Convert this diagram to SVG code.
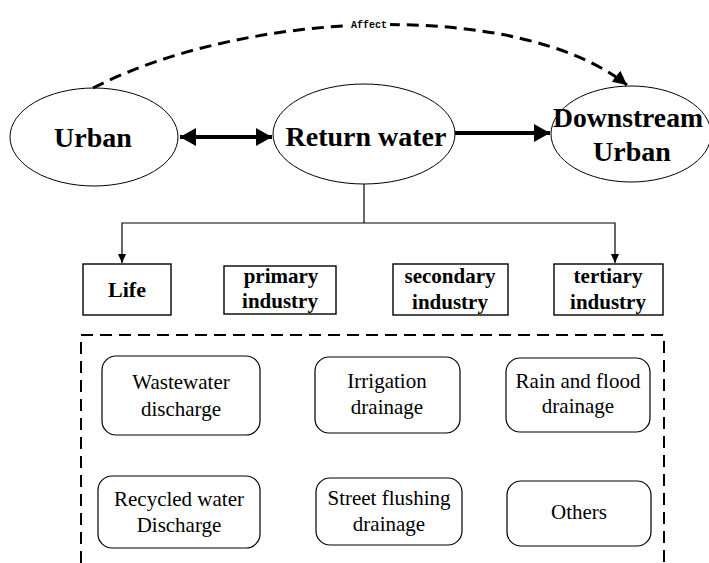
<svg xmlns="http://www.w3.org/2000/svg" width="709" height="563" viewBox="0 0 709 563">
<defs>
<style>
.ell{fill:#fff;stroke:#000;stroke-width:1}
.big{font-family:"Liberation Serif","Times New Roman",serif;font-weight:bold;font-size:28px;text-anchor:middle;fill:#000}
.sq{fill:#fff;stroke:#000;stroke-width:1.4}
.mid{font-family:"Liberation Serif","Times New Roman",serif;font-weight:bold;font-size:21px;text-anchor:middle;fill:#000}
.rb{fill:#fff;stroke:#000;stroke-width:1.2}
.reg{font-family:"Liberation Serif","Times New Roman",serif;font-size:21px;text-anchor:middle;fill:#000}
.thin{fill:none;stroke:#000;stroke-width:1.2}
</style>
<marker id="bigHead" markerUnits="userSpaceOnUse" markerWidth="18" markerHeight="20" viewBox="0 0 18 20" refX="16" refY="10" orient="auto-start-reverse">
<path d="M0,1 L16,10 L0,19 Z" fill="#000"/>
</marker>
<marker id="dashHead" markerUnits="userSpaceOnUse" markerWidth="16" markerHeight="16" viewBox="0 0 16 16" refX="14" refY="8" orient="auto">
<path d="M0,1 L14,8 L0,15 Z" fill="#000"/>
</marker>
<marker id="smallHead" markerUnits="userSpaceOnUse" markerWidth="10" markerHeight="10" viewBox="0 0 10 10" refX="9" refY="5" orient="auto">
<path d="M0,1 L9,5 L0,9 Z" fill="#000"/>
</marker>
</defs>
<rect width="709" height="563" fill="#fff"/>

<g id="urban">
<ellipse class="ell" cx="94" cy="137" rx="84" ry="49"/>
<text class="big" x="93" y="147">Urban</text>
</g>
<g id="return-water">
<ellipse class="ell" cx="364" cy="134" rx="91" ry="50"/>
<text class="big" x="366" y="146">Return water</text>
</g>
<g id="downstream">
<ellipse class="ell" cx="631" cy="134" rx="80" ry="48"/>
<text class="big" x="628" y="127" textLength="150" lengthAdjust="spacingAndGlyphs">Downstream</text>
<text class="big" x="632" y="161">Urban</text>
</g>

<g id="life">
<rect class="sq" x="83" y="264" width="88" height="51"/>
<text class="mid" x="127" y="297" style="font-size:22px">Life</text>
</g>
<g id="primary">
<rect class="sq" x="224" y="266" width="112" height="48"/>
<text class="mid" x="281" y="283">primary</text>
<text class="mid" x="280" y="308">industry</text>
</g>
<g id="secondary">
<rect class="sq" x="393" y="264" width="115" height="51"/>
<text class="mid" x="450" y="283">secondary</text>
<text class="mid" x="450" y="309">industry</text>
</g>
<g id="tertiary">
<rect class="sq" x="554" y="264" width="109" height="51"/>
<text class="mid" x="608" y="283">tertiary</text>
<text class="mid" x="608" y="309">industry</text>
</g>

<g id="group-frame">
<path d="M81,563 V335 H664 V563" fill="none" stroke="#000" stroke-width="2" stroke-dasharray="12,7"/>
</g>

<g id="wastewater">
<rect class="rb" x="102" y="356" width="158" height="79" rx="14"/>
<text class="reg" x="181" y="389">Wastewater</text>
<text class="reg" x="181" y="416">discharge</text>
</g>
<g id="irrigation">
<rect class="rb" x="315" y="357" width="145" height="76" rx="14"/>
<text class="reg" x="387" y="388">Irrigation</text>
<text class="reg" x="387" y="414">drainage</text>
</g>
<g id="rain">
<rect class="rb" x="506" y="358" width="144" height="74" rx="14"/>
<text class="reg" x="578" y="388">Rain and flood</text>
<text class="reg" x="578" y="413">drainage</text>
</g>
<g id="recycled">
<rect class="rb" x="98" y="476" width="162" height="72" rx="14"/>
<text class="reg" x="179" y="506">Recycled water</text>
<text class="reg" x="179" y="532">Discharge</text>
</g>
<g id="street">
<rect class="rb" x="316" y="478" width="146" height="67" rx="14"/>
<text class="reg" x="389" y="505">Street flushing</text>
<text class="reg" x="389" y="531">drainage</text>
</g>
<g id="others">
<rect class="rb" x="507" y="481" width="144" height="65" rx="14"/>
<text class="reg" x="579" y="519">Others</text>
</g>

<g id="connectors">
<line x1="180" y1="137" x2="272" y2="137" stroke="#000" stroke-width="4" marker-start="url(#bigHead)" marker-end="url(#bigHead)"/>
<line x1="455" y1="133" x2="550" y2="133" stroke="#000" stroke-width="4" marker-end="url(#bigHead)"/>
<path d="M93,88 C250,8 520,0 627,85" fill="none" stroke="#000" stroke-width="3" stroke-dasharray="12,7" marker-end="url(#dashHead)"/>
<rect x="348" y="17" width="42" height="14" fill="#fff"/>
<text x="369" y="28" style="font-family:'Liberation Mono','Courier New',monospace;font-weight:bold;font-size:10px;text-anchor:middle">Affect</text>
<path class="thin" d="M364,184 V223"/>
<path class="thin" d="M364,223 H122 V263" marker-end="url(#smallHead)"/>
<path class="thin" d="M364,223 H615 V263" marker-end="url(#smallHead)"/>
</g>
</svg>
